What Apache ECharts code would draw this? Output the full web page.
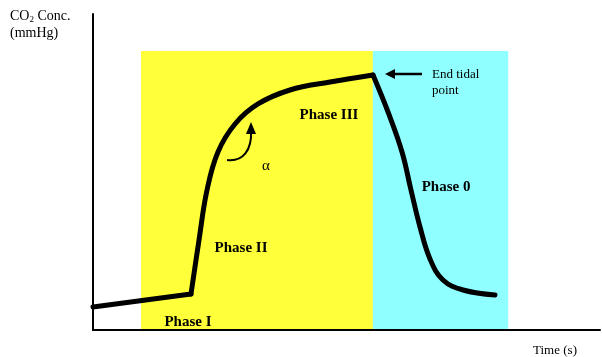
<!DOCTYPE html>
<html>
<head>
<meta charset="utf-8">
<script src="https://cdn.jsdelivr.net/npm/echarts@6/dist/echarts.min.js"></script>
<style>html,body{margin:0;padding:0;background:#fff}#c{width:602px;height:357px}</style>
</head>
<body>
<div id="c"></div>
<script>
// Time axis (arbitrary units 0-100), CO2 axis (arbitrary units 0-100)
const timeBaseline = [0, 19.33];
const co2Baseline = [7.3, 11.39];
const timeRise = [19.33, 20.91, 22.49, 24.65, 28.01, 32.54, 38.86, 46.75, 55.23];
const co2Rise = [11.39, 28.48, 44.30, 56.33, 65.19, 71.52, 75.95, 78.48, 80.70];
const timeFall = [55.23, 58.19, 60.95, 62.72, 64.50, 66.47, 69.03, 72.98, 79.29];
const co2Fall = [80.70, 68.99, 56.33, 44.30, 32.59, 22.47, 15.82, 12.66, 11.08];
const phaseBands = [
  { name: 'inspiratory', from: 9.47, to: 55.2, top: 88.3, color: '#FFFF3A' },
  { name: 'expiratory', from: 55.2, to: 81.9, top: 88.3, color: '#90FFFF' }
];

const zip = (xs, ys) => xs.map((x, i) => [x, ys[i]]);
const chart = echarts.init(document.getElementById('c'));
const serif = 'Liberation Serif, Times New Roman, serif';
const lineStyle = { color: '#000', width: 5, cap: 'round', join: 'round' };

chart.setOption({
  animation: false,
  grid: { left: 93, right: 2, top: 14, bottom: 27 },
  xAxis: {
    type: 'value', min: 0, max: 100, z: 5,
    axisLine: { onZero: false, lineStyle: { color: '#000', width: 2 } },
    axisTick: { show: false }, axisLabel: { show: false }, splitLine: { show: false }
  },
  yAxis: {
    type: 'value', min: 0, max: 100, z: 5,
    axisLine: { show: true, onZero: false, lineStyle: { color: '#000', width: 2 } },
    axisTick: { show: false }, axisLabel: { show: false }, splitLine: { show: false }
  },
  series: [
    {
      type: 'line', data: [], z: 1, silent: true,
      markArea: {
        silent: true,
        data: phaseBands.map(b => [
          { xAxis: b.from, yAxis: 0, itemStyle: { color: b.color, opacity: 1 } },
          { xAxis: b.to, yAxis: b.top }
        ])
      }
    },
    { type: 'line', z: 3, data: zip(timeBaseline, co2Baseline), showSymbol: false, lineStyle },
    { type: 'line', z: 3, data: zip(timeRise, co2Rise), showSymbol: false, smooth: 0.4, lineStyle },
    { type: 'line', z: 3, data: zip(timeFall, co2Fall), showSymbol: false, smooth: 0.4, lineStyle }
  ],
  graphic: [
    { type: 'text', left: 10, top: 8, z: 10, style: {
      text: '{n|CO}{s|2}{n| Conc.}\n{n|(mmHg)}',
      rich: { n: { fontFamily: serif, fontSize: 14, fill: '#000', lineHeight: 17 },
              s: { fontFamily: serif, fontSize: 9, fill: '#000', padding: [7, 0, 0, 0], lineHeight: 17 } } } },
    { type: 'text', x: 555, y: 351, z: 10, style: { text: 'Time (s)', fontFamily: serif, fontSize: 13, fill: '#000', align: 'center', verticalAlign: 'middle' } },
    { type: 'text', x: 432, y: 83, z: 10, style: { text: 'End tidal\npoint', fontFamily: serif, fontSize: 13, lineHeight: 16, fill: '#000', align: 'left', verticalAlign: 'middle' } },
    { type: 'text', x: 329, y: 115, z: 10, style: { text: 'Phase III', fontFamily: serif, fontWeight: 'bold', fontSize: 15, fill: '#000', align: 'center', verticalAlign: 'middle' } },
    { type: 'text', x: 241, y: 248, z: 10, style: { text: 'Phase II', fontFamily: serif, fontWeight: 'bold', fontSize: 15, fill: '#000', align: 'center', verticalAlign: 'middle' } },
    { type: 'text', x: 188, y: 322, z: 10, style: { text: 'Phase I', fontFamily: serif, fontWeight: 'bold', fontSize: 15, fill: '#000', align: 'center', verticalAlign: 'middle' } },
    { type: 'text', x: 446, y: 187, z: 10, style: { text: 'Phase 0', fontFamily: serif, fontWeight: 'bold', fontSize: 15, fill: '#000', align: 'center', verticalAlign: 'middle' } },
    { type: 'text', x: 266, y: 166, z: 10, style: { text: 'α', fontFamily: serif, fontSize: 15, fill: '#000', align: 'center', verticalAlign: 'middle' } },
    // End tidal arrow
    { type: 'line', z: 10, shape: { x1: 392, y1: 74, x2: 422, y2: 74 }, style: { stroke: '#000', lineWidth: 2.5 } },
    { type: 'polygon', z: 10, shape: { points: [[385, 74], [395, 69], [395, 79]] }, style: { fill: '#000' } },
    // alpha curved arrow
    { type: 'bezierCurve', z: 10, shape: { x1: 227, y1: 160, cpx1: 243, cpy1: 162, cpx2: 252, cpy2: 150, x2: 251, y2: 131 }, style: { stroke: '#000', lineWidth: 2, fill: null } },
    { type: 'polygon', z: 10, shape: { points: [[251, 122], [246, 134], [256, 134]] }, style: { fill: '#000' } }
  ]
});
</script>
</body>
</html>
